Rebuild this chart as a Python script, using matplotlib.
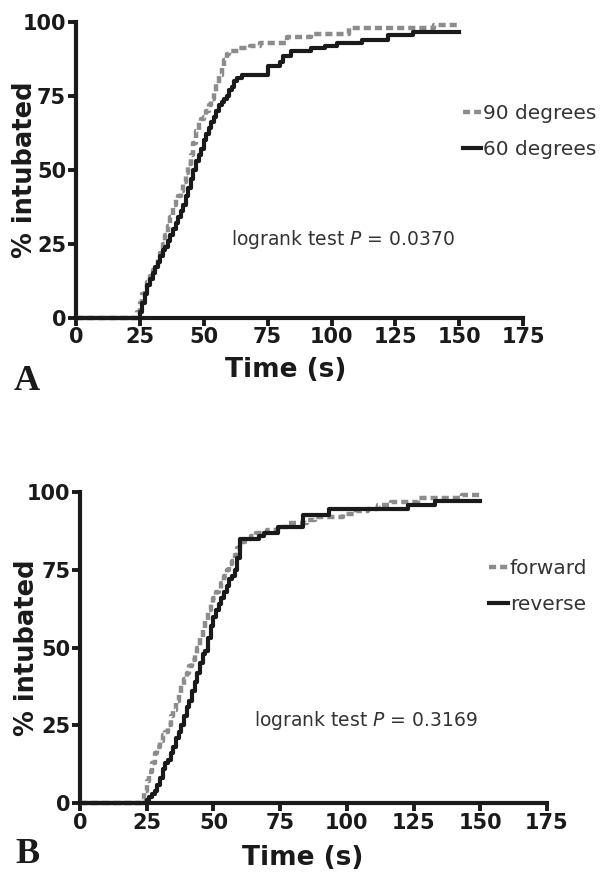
import matplotlib
matplotlib.use("Agg")
from matplotlib import pyplot as plt

plt.rcParams['font.family'] = ['DejaVu Sans']

# Panel A: cumulative % intubated vs time (s)
a90_t = [0, 23, 24, 25, 26, 27, 28, 29, 30, 31, 32, 33, 34, 35, 36, 37, 38, 39, 40, 41, 42,
         43, 44, 45, 46, 47, 48, 49, 50, 51, 52, 53, 54, 55, 56, 57, 58, 59, 60, 64, 68, 72,
         82.5, 92, 107, 140, 150]
a90_v = [0, 0, 2, 5, 8, 10, 12, 14, 16, 18, 20, 22, 25, 28, 31, 34, 38, 40, 41, 43, 46,
         49, 52, 55, 59, 63, 66, 67, 68, 70, 72, 74, 76, 79, 82, 85, 87, 89, 90, 91, 92, 93,
         95, 96, 98, 99, 99]
a60_t = [0, 24, 25, 26, 27, 28, 29, 30, 31, 32, 33, 34, 35, 36, 37, 38, 39, 40, 41, 42, 43,
         44, 45, 46, 47, 48, 49, 50, 51, 52, 53, 54, 55, 56, 57, 58, 59, 60, 61, 62, 63, 65,
         75, 80, 81, 84, 92, 97.5, 102, 112, 122, 132, 150]
a60_v = [0, 0, 2, 5, 8, 11, 13, 15, 17, 19, 21, 23, 24, 26, 28, 30, 32, 34, 36, 38, 41,
         44, 47, 50, 53, 55, 57, 60, 62, 64, 66, 68, 70, 72, 73, 74, 75, 77, 78, 80, 81, 82,
         85, 86.5, 88.3, 90, 91, 92, 93, 94, 95.6, 96.7, 96.7]

# Panel B
bf_t = [0, 22, 23, 24, 25, 26, 27, 28, 29, 30, 31, 32, 33, 34, 35, 36, 37, 38, 39, 40, 41,
        42, 43, 44, 45, 46, 47, 48, 49, 50, 51, 52, 53, 54, 55, 56, 57, 58, 59, 60, 62, 64,
        66, 70, 74, 78, 85, 88, 98.5, 103.5, 108, 111.7, 116.7, 126.7, 143, 150]
bf_v = [0, 0, 1, 4, 7, 10, 13, 16, 18, 20, 22, 23, 25, 28, 30, 33, 35, 38, 40, 42, 44,
        46, 48, 50, 53, 56, 59, 62, 64, 66, 68, 69, 71, 73, 75, 77, 78, 80, 82, 84, 85, 86,
        87, 88, 89, 90, 91, 92, 93, 94, 94.7, 96, 97, 98.2, 99, 99]
br_t = [0, 24, 25, 26, 27, 28, 29, 30, 31, 32, 33, 34, 35, 36, 37, 38, 39, 40, 41, 42, 43,
        44, 45, 46, 47, 48, 49, 50, 51, 52, 53, 54, 55, 56, 57, 58, 59, 60, 65, 67, 69, 74,
        83.4, 93.4, 123, 133, 150]
br_v = [0, 0, 1, 2, 3, 4, 6, 8, 11, 13, 14, 16, 18, 21, 23, 25, 28, 31, 33, 36, 39,
        42, 45, 48, 49, 53, 57, 60, 62, 64, 66, 68, 70, 72, 73, 75, 79, 85, 85, 86, 87, 88.8,
        92.6, 94.7, 96, 97.1, 97.1]

x_ticks = [0, 25, 50, 75, 100, 125, 150, 175]
y_ticks = [0, 25, 50, 75, 100]


def km_panel(ax, t1, v1, name1, t2, v2, name2, pval, leg_xy, txt_xy, ylab_x, xlab_xy):
    ax.plot(t1, v1, drawstyle="steps-post", color="#8c8c8c", lw=3.2,
            dashes=(1.6, 0.9), label=name1, clip_on=False, zorder=3)
    ax.plot(t2, v2, drawstyle="steps-post", color="#1a1a1a", lw=3.0,
            label=name2, clip_on=False, zorder=4)
    ax.set_xlim(0, 175)
    ax.set_ylim(0, 100)
    ax.set_xticks(x_ticks)
    ax.set_yticks(y_ticks)
    ax.tick_params(labelsize=15, width=2.8, length=6, direction="out", pad=1,
                   colors="#1a1a1a")
    for lab in ax.get_xticklabels() + ax.get_yticklabels():
        lab.set_fontweight("bold")
    for s in ["top", "right"]:
        ax.spines[s].set_visible(False)
    for s in ["left", "bottom"]:
        ax.spines[s].set_linewidth(3.0)
        ax.spines[s].set_color("#1a1a1a")
    ax.set_xlabel("Time (s)", fontsize=19, fontweight="bold", va="center", color="#1a1a1a")
    ax.xaxis.set_label_coords(*xlab_xy)
    ax.set_ylabel("% intubated", fontsize=18.5, fontweight="bold", va="center", color="#1a1a1a")
    ax.yaxis.set_label_coords(ylab_x, 0.5)
    ax.text(txt_xy[0], txt_xy[1], "logrank test $\\it{P}$ = " + pval, transform=ax.transAxes,
            ha="center", va="center", fontsize=13.5, color="#333333")
    leg = ax.legend(loc="center left", bbox_to_anchor=leg_xy, frameon=False,
                    fontsize=14.5, handlelength=0.9, handletextpad=0.1, labelspacing=0.85,
                    borderaxespad=0, borderpad=0)
    for t in leg.get_texts():
        t.set_color("#333333")


fig = plt.figure(figsize=(6.07, 8.73), dpi=100)
ax1 = fig.add_axes([0.125, 0.636, 0.737, 0.339])
ax2 = fig.add_axes([0.132, 0.080, 0.769, 0.356])

km_panel(ax1, a90_t, a90_v, "90 degrees", a60_t, a60_v, "60 degrees", "0.0370",
         (0.866, 0.63), (0.596, 0.264), -0.114, (0.47, -0.176))
km_panel(ax2, bf_t, bf_v, "forward", br_t, br_v, "reverse", "0.3169",
         (0.877, 0.698), (0.613, 0.267), -0.114, (0.477, -0.177))

fig.text(0.023, 0.553, "A", fontsize=26, fontweight="bold", family="Liberation Serif",
         va="baseline", color="#1a1a1a")
fig.text(0.025, 0.012, "B", fontsize=26, fontweight="bold", family="Liberation Serif",
         va="baseline", color="#1a1a1a")

fig.savefig("out.png", dpi=100)
